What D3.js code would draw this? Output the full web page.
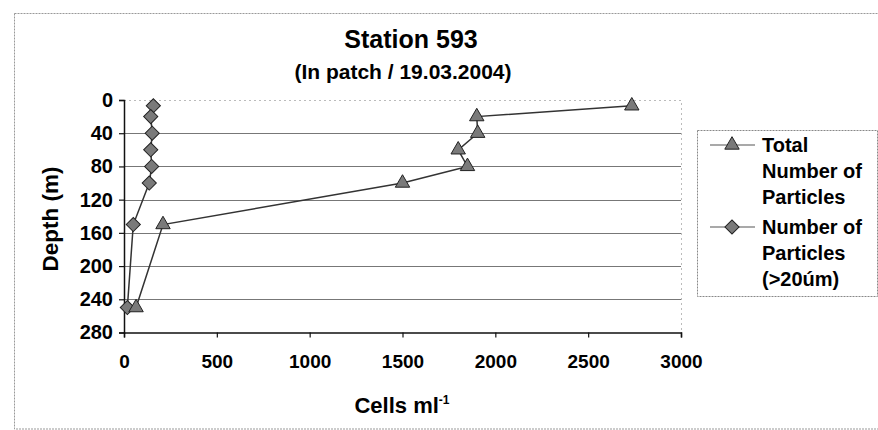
<!DOCTYPE html>
<html><head><meta charset="utf-8">
<script src="https://cdn.jsdelivr.net/npm/d3@7"></script>
<style>
body{margin:0;background:#fff;}
text{font-family:"Liberation Sans",Arial,sans-serif;font-weight:bold;fill:#000;}
</style></head>
<body><svg id="c" width="878" height="430"></svg>
<script>
const depths = [7, 20, 40, 60, 80, 100, 150, 250];
const totalParticles = [2735, 1900, 1905, 1800, 1850, 1500, 210, 65];
const largeParticles = [158, 144, 152, 144, 149, 136, 50, 18];
const xTicks = [0, 500, 1000, 1500, 2000, 2500, 3000];
const yTicks = [0, 40, 80, 120, 160, 200, 240, 280];
const seriesNames = ["Total Number of Particles", "Number of Particles (>20úm)"];
const legendLines = [["Total", "Number of", "Particles"], ["Number of", "Particles", "(>20úm)"]];

const svg = d3.select("#c");
const x = d3.scaleLinear().domain([0, 3000]).range([124, 681]);
const y = d3.scaleLinear().domain([0, 280]).range([100, 332.5]);

// outer border
svg.append("rect").attr("x", 14.5).attr("y", 13.5).attr("width", 880).attr("height", 415.5)
  .attr("fill", "none").attr("stroke", "#999").attr("stroke-dasharray", "2,1");

// plot area border (top/right dotted)
svg.append("path").attr("d", `M${x(0)},${y(0)+0.5}H${x(3000)+0.5}V${y(280)}`)
  .attr("fill", "none").attr("stroke", "#bbb").attr("stroke-dasharray", "2,3");

// gridlines
svg.append("g").selectAll("line").data(yTicks.filter(d => d > 0 && d < 280)).join("line")
  .attr("x1", x(0)).attr("x2", x(3000)).attr("y1", d => Math.round(y(d)) + 0.5).attr("y2", d => Math.round(y(d)) + 0.5)
  .attr("stroke", "#777").attr("stroke-width", 1);

// axes
const xAxis = svg.append("g").attr("transform", `translate(0,${y(280)})`)
  .call(d3.axisBottom(x).tickValues(xTicks).tickSize(5).tickPadding(17).tickFormat(d3.format("d")));
const yAxis = svg.append("g").attr("transform", `translate(${x(0)},0)`)
  .call(d3.axisLeft(y).tickValues(yTicks).tickSize(5).tickPadding(6));
[xAxis, yAxis].forEach(a => {
  a.select(".domain").attr("stroke", "#111").attr("stroke-width", 1.5);
  a.selectAll(".tick line").attr("stroke", "#111").attr("stroke-width", 1.2);
  a.selectAll("text").style("font-family", "Liberation Sans, Arial, sans-serif").style("font-weight", "bold").attr("fill", "#000");
});
xAxis.selectAll("text").style("font-size", "19px");
yAxis.selectAll("text").style("font-size", "20px");

// series
const tri = d3.symbol().type(d3.symbolTriangle).size(90);
const dia = d3.symbol().type(d3.symbolSquare).size(100);
const line = d3.line();
const totalPts = depths.map((d, i) => [x(totalParticles[i]), y(d)]);
const largePts = depths.map((d, i) => [x(largeParticles[i]), y(d)]);

svg.append("path").attr("d", line(largePts)).attr("fill", "none").attr("stroke", "#333").attr("stroke-width", 1.5);
svg.append("path").attr("d", line(totalPts)).attr("fill", "none").attr("stroke", "#333").attr("stroke-width", 1.5);

svg.append("g").selectAll("path").data(largePts).join("path")
  .attr("d", dia()).attr("transform", d => `translate(${d[0]},${d[1]}) rotate(45)`)
  .attr("fill", "#7a7a7a").attr("stroke", "#222").attr("stroke-width", 1);
svg.append("g").selectAll("path").data(totalPts).join("path")
  .attr("d", tri()).attr("transform", d => `translate(${d[0]},${d[1]})`)
  .attr("fill", "#7a7a7a").attr("stroke", "#222").attr("stroke-width", 1);

// titles
svg.append("text").attr("x", 411).attr("y", 48).attr("text-anchor", "middle").style("font-size", "25px").text("Station 593");
svg.append("text").attr("x", 403).attr("y", 79).attr("text-anchor", "middle").style("font-size", "21px").text("(In patch / 19.03.2004)");

// axis labels
const xl = svg.append("text").attr("x", 402).attr("y", 413).attr("text-anchor", "middle").style("font-size", "22px");
xl.append("tspan").text("Cells ml");
xl.append("tspan").attr("dy", -9).style("font-size", "12px").text("-1");
svg.append("text").attr("transform", "translate(58,219) rotate(-90)").attr("text-anchor", "middle").style("font-size", "22.5px").text("Depth (m)");

// legend
const lg = svg.append("g");
lg.append("rect").attr("x", 697.5).attr("y", 130.5).attr("width", 180).attr("height", 166)
  .attr("fill", "#fff").attr("stroke", "#888").attr("stroke-dasharray", "2,1");
const legendY = [145, 227];
const markers = [tri, dia];
legendLines.forEach((lines, i) => {
  lg.append("line").attr("x1", 710).attr("x2", 755).attr("y1", legendY[i]).attr("y2", legendY[i]).attr("stroke", "#555").attr("stroke-width", 1.2);
  lg.append("path").attr("d", markers[i]())
    .attr("transform", `translate(732,${legendY[i]})` + (i === 1 ? " rotate(45)" : ""))
    .attr("fill", "#7a7a7a").attr("stroke", "#222");
  const t = lg.append("text").attr("x", 762).attr("y", legendY[i] + 7).style("font-size", "20px");
  lines.forEach((s, j) => t.append("tspan").attr("x", 762).attr("dy", j === 0 ? 0 : 26).text(s));
});
</script></body></html>
